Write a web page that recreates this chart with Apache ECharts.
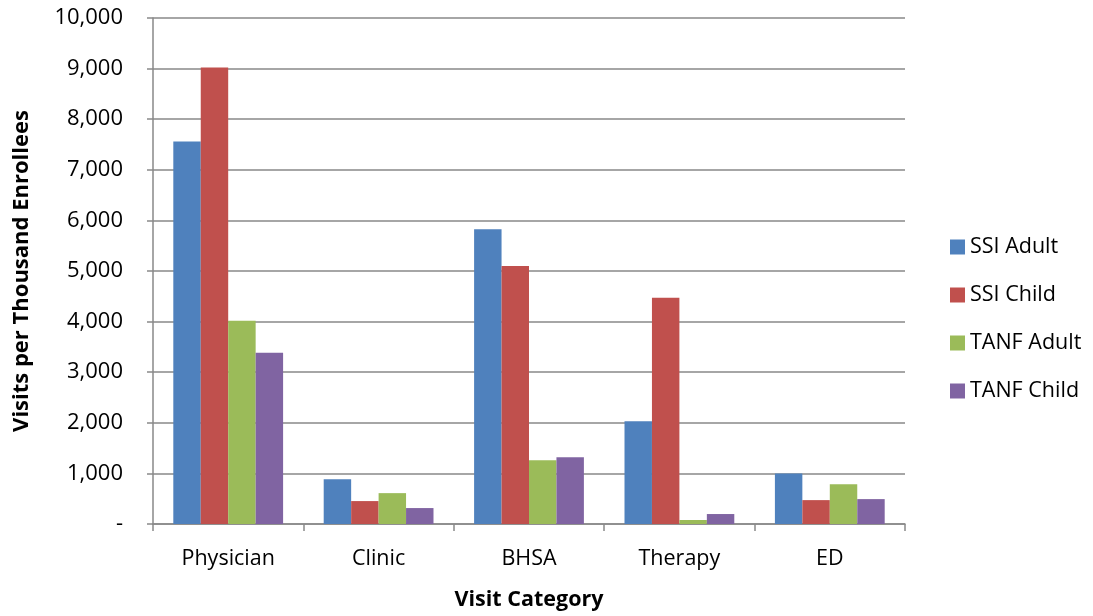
<!DOCTYPE html>
<html>
<head>
<meta charset="utf-8">
<script src="https://cdn.jsdelivr.net/npm/echarts@6/dist/echarts.min.js"></script>
<style>
  html, body { margin: 0; padding: 0; background: #fff; }
  #chart { width: 1093px; height: 616px; }
</style>
</head>
<body>
<div id="chart"></div>
<script>
// Visits per thousand enrollees by visit category and enrollee group
const categories = ['Physician', 'Clinic', 'BHSA', 'Therapy', 'ED'];
const ssiAdult  = [7560, 886, 5827, 2030, 1000];
const ssiChild  = [9020, 453, 5098, 4469, 472];
const tanfAdult = [4016, 610, 1260, 79, 787];
const tanfChild = [3386, 315, 1319, 197, 492];
const seriesNames = ['SSI Adult', 'SSI Child', 'TANF Adult', 'TANF Child'];
const colors = ['#4F81BD', '#C0504D', '#9BBB59', '#8064A2'];

const FONT = '"Open Sans", sans-serif';
const axisGray = '#898989';

const chart = echarts.init(document.getElementById('chart'), null, { renderer: 'canvas' });

const seriesData = [ssiAdult, ssiChild, tanfAdult, tanfChild];

chart.setOption({
  animation: false,
  color: colors,
  grid: { left: 153, right: 188, top: 18, bottom: 90, containLabel: false },
  legend: {
    orient: 'vertical',
    left: 945,
    top: 231,
    itemWidth: 15,
    itemHeight: 15,
    itemGap: 26,
    icon: 'rect',
    textStyle: { fontFamily: FONT, fontSize: 21.5, color: '#000', padding: [0, 0, 0, 0], lineHeight: 22 },
    data: seriesNames
  },
  xAxis: {
    type: 'category',
    data: categories,
    name: 'Visit Category',
    nameLocation: 'middle',
    nameGap: 65,
    nameTextStyle: { fontFamily: FONT, fontSize: 21.5, fontWeight: 'bold', color: '#000' },
    axisLine: { lineStyle: { color: axisGray, width: 1.5 } },
    axisTick: { show: true, length: 7, interval: 0, lineStyle: { color: axisGray, width: 1.5 } },
    axisLabel: { fontFamily: FONT, fontSize: 21.5, color: '#000', margin: 24 }
  },
  yAxis: {
    type: 'value',
    min: 0,
    max: 10000,
    interval: 1000,
    name: 'Visits per Thousand Enrollees',
    nameLocation: 'middle',
    nameGap: 120,
    nameRotate: 90,
    nameTextStyle: { fontFamily: FONT, fontSize: 22, fontWeight: 'bold', color: '#000' },
    axisLine: { show: true, lineStyle: { color: axisGray, width: 1.5 } },
    axisTick: { show: true, length: 6, lineStyle: { color: axisGray, width: 1.5 } },
    splitLine: { lineStyle: { color: axisGray, width: 1.5 } },
    axisLabel: {
      fontFamily: FONT, fontSize: 22, color: '#000', margin: 30,
      formatter: v => v === 0 ? '-' : v.toLocaleString('en-US')
    }
  },
  series: seriesData.map((d, i) => ({
    name: seriesNames[i],
    type: 'bar',
    data: d,
    barGap: '0%',
    barCategoryGap: '27%',
    itemStyle: { color: colors[i] }
  }))
});
</script>
</body>
</html>
